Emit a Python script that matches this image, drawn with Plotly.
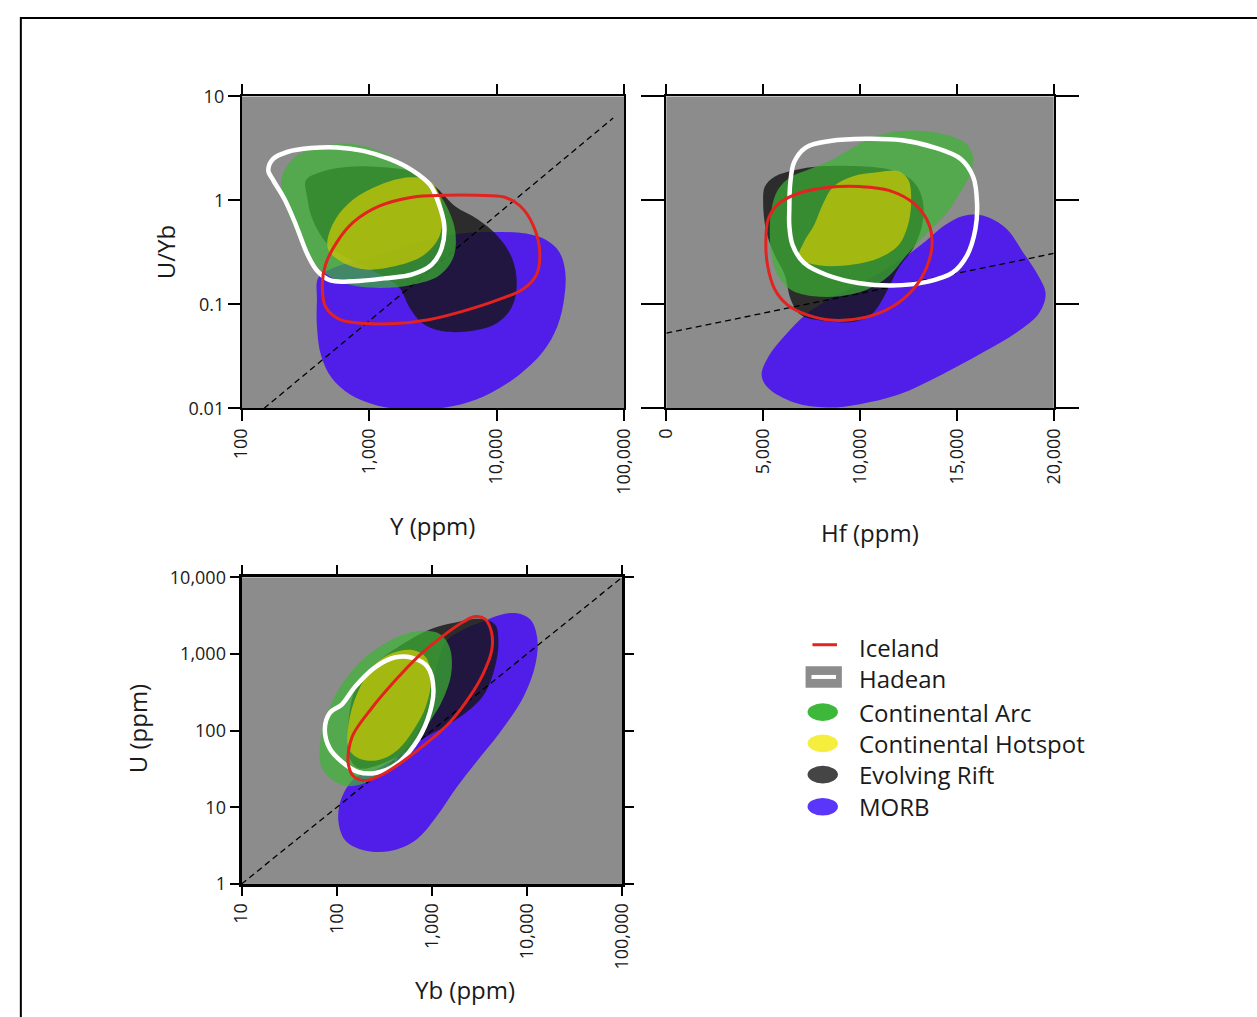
import plotly.graph_objects as go

W, H = 1257, 1017

# ---------------- DATA ----------------
# Panel 1: U/Yb vs Y (ppm)
p1_morb_x = [390, 400, 530, 900, 1600, 2900, 5300, 9500, 17000, 24500, 31000, 34500, 34000, 30000, 23000, 15000, 9000, 5300, 2900, 1700, 1070, 710, 510, 420, 390]
p1_morb_y = [0.110, 0.181, 0.225, 0.270, 0.335, 0.416, 0.48, 0.498, 0.48, 0.416, 0.32, 0.21, 0.118, 0.0618, 0.0348, 0.0210, 0.0141, 0.011, 0.00986, 0.00986, 0.011, 0.0136, 0.0196, 0.0323, 0.0618]
p1_rift_x = [320, 420, 670, 1200, 2200, 3300, 4700, 7100, 10100, 13200, 14400, 13200, 10100, 6300, 3700, 2600, 2060, 1720, 1200, 750, 480, 360, 326]
p1_rift_y = [1.57, 1.88, 2.10, 2.10, 1.88, 1.36, 0.885, 0.66, 0.46, 0.28, 0.157, 0.095, 0.0664, 0.0555, 0.0555, 0.0664, 0.095, 0.146, 0.195, 0.26, 0.373, 0.66, 1.10]
p1_arc_x = [205, 245, 350, 530, 850, 1360, 2060, 3100, 4050, 4750, 4560, 3500, 2180, 1210, 670, 443, 330, 260, 218]
p1_arc_y = [1.57, 2.42, 3.12, 3.47, 3.40, 2.80, 2.02, 1.41, 0.885, 0.498, 0.28, 0.188, 0.155, 0.144, 0.157, 0.202, 0.30, 0.535, 0.95]
p1_hot_x = [470, 545, 750, 1210, 2060, 2930, 3500, 3780, 3500, 2600, 1620, 950, 630, 490]
p1_hot_y = [0.40, 0.66, 1.02, 1.41, 1.67, 1.57, 1.18, 0.713, 0.43, 0.29, 0.234, 0.217, 0.251, 0.32]
p1_ice_x = [430, 456, 561, 753, 1210, 2180, 3940, 7100, 11400, 15300, 19400, 21800, 20600, 16200, 10100, 5300, 2930, 1620, 950, 594, 456]
p1_ice_y = [0.157, 0.242, 0.40, 0.618, 0.885, 1.075, 1.12, 1.12, 1.08, 0.885, 0.574, 0.32, 0.195, 0.141, 0.110, 0.0853, 0.0713, 0.0655, 0.0655, 0.0713, 0.095]
p1_had_x = [162, 177, 231, 350, 561, 900, 1440, 2180, 3010, 3500, 3890, 3710, 3100, 2180, 1360, 753, 498, 393, 330, 268, 218, 177]
p1_had_y = [1.95, 2.51, 2.94, 3.19, 3.24, 3.0, 2.51, 1.95, 1.41, 0.95, 0.574, 0.348, 0.242, 0.195, 0.179, 0.167, 0.170, 0.21, 0.30, 0.574, 1.02, 1.57]
p1_ref_x = [150, 82000]
p1_ref_y = [0.01, 6.2]

# Panel 2: U/Yb vs Hf (ppm)
p2_morb_x = [4920, 5260, 6100, 7280, 8630, 10300, 12000, 13350, 14350, 15370, 16380, 17560, 18400, 19160, 19580, 19240, 18060, 16380, 14190, 12000, 9980, 8290, 6600, 5260]
p2_morb_y = [0.0210, 0.0312, 0.0498, 0.0824, 0.118, 0.169, 0.26, 0.40, 0.574, 0.713, 0.713, 0.535, 0.32, 0.195, 0.127, 0.0824, 0.0535, 0.0348, 0.0210, 0.0136, 0.011, 0.0102, 0.0114, 0.0157]
p2_rift_x = [5000, 5090, 5590, 6600, 7950, 9980, 11660, 12670, 13180, 13260, 12840, 12000, 11320, 10650, 9810, 8290, 6940, 6440, 6100, 5590, 5170]
p2_rift_y = [0.95, 1.36, 1.69, 1.95, 2.13, 2.13, 1.95, 1.57, 1.10, 0.66, 0.373, 0.225, 0.127, 0.0824, 0.0688, 0.0688, 0.0794, 0.110, 0.195, 0.30, 0.498]
p2_arc_x = [5430, 5760, 6440, 7620, 8960, 10310, 11490, 12500, 13510, 14360, 15110, 15700, 15840, 15540, 14690, 13350, 12000, 10820, 9810, 8630, 7450, 6440, 5760, 5430, 5340]
p2_arc_y = [0.30, 0.188, 0.138, 0.12, 0.12, 0.138, 0.188, 0.312, 0.498, 0.713, 1.14, 1.82, 2.61, 3.42, 4.16, 4.64, 4.64, 4.16, 3.35, 2.51, 2.02, 1.69, 1.27, 0.824, 0.498]
p2_hot_x = [6860, 7950, 9640, 10990, 12000, 12470, 12640, 12500, 12000, 10990, 9640, 8630, 8040, 7620, 7110]
p2_hot_y = [0.28, 0.237, 0.242, 0.28, 0.373, 0.574, 0.95, 1.57, 1.91, 1.88, 1.71, 1.36, 0.885, 0.574, 0.40]
p2_ice_x = [5140, 5260, 5760, 6770, 8290, 9980, 11490, 12840, 13550, 13720, 13430, 12760, 11660, 10310, 8630, 7280, 6270, 5590, 5220]
p2_ice_y = [0.40, 0.66, 0.917, 1.16, 1.33, 1.36, 1.25, 0.917, 0.596, 0.373, 0.225, 0.141, 0.095, 0.0755, 0.0703, 0.0794, 0.0986, 0.141, 0.242]
p2_had_x = [6350, 6400, 6600, 7200, 8460, 10310, 12170, 13850, 15200, 15840, 16040, 15960, 15540, 14780, 13510, 11660, 9980, 8290, 7110, 6520, 6350]
p2_had_y = [0.824, 1.47, 2.34, 3.23, 3.73, 3.92, 3.79, 3.23, 2.51, 1.69, 0.95, 0.535, 0.30, 0.202, 0.166, 0.152, 0.16, 0.192, 0.251, 0.373, 0.574]
p2_ref_x = [0, 20000]
p2_ref_y = [0.053, 0.31]

# Panel 3: U (ppm) vs Yb (ppm)
p3_morb_x = [104, 113, 156, 277, 490, 736, 979, 1150, 1420, 2130, 3470, 5210, 7850, 10900, 12800, 12300, 9230, 5210, 2950, 1810, 1110, 680, 353, 184, 122]
p3_morb_y = [6.76, 13.4, 24.2, 32.4, 52.8, 105, 280, 745, 1480, 2080, 2670, 3240, 3400, 2800, 1630, 745, 280, 95.3, 39.4, 18.0, 7.45, 3.75, 2.67, 2.80, 3.75]
p3_rift_x = [133, 133, 156, 255, 490, 940, 1660, 3200, 4610, 5010, 4610, 3610, 2510, 1420, 800, 490, 277, 169]
p3_rift_y = [48.0, 128, 340, 745, 1340, 2080, 2540, 2880, 2420, 1480, 676, 308, 189, 116, 78.3, 50.4, 35.7, 32.4]
p3_arc_x = [66.4, 71.9, 88.3, 122, 200, 384, 736, 1200, 1540, 1600, 1300, 940, 625, 384, 217, 133, 84.7, 68.1]
p3_arc_y = [58.3, 116, 230, 457, 906, 1550, 1990, 1840, 1220, 556, 253, 128, 64.4, 35.7, 21.9, 18.9, 24.2, 35.7]
p3_hot_x = [133, 138, 177, 255, 384, 625, 866, 979, 866, 652, 434, 277, 177]
p3_hot_y = [58.3, 155, 375, 745, 1030, 1125, 906, 457, 208, 105, 55.6, 41.4, 42.6]
p3_ice_x = [133, 150, 235, 416, 736, 1300, 2130, 2830, 3610, 4250, 4250, 3470, 2510, 1540, 866, 490, 300, 200, 150, 133]
p3_ice_y = [52.8, 90.6, 199, 457, 953, 1710, 2610, 3080, 2880, 1890, 1100, 556, 280, 128, 67.6, 39.4, 26.7, 22.3, 25.4, 35.7]
p3_had_x = [75.0, 84.7, 113, 156, 255, 416, 625, 904, 1040, 904, 652, 416, 255, 169, 113, 84.7]
p3_had_y = [105, 171, 219, 375, 676, 906, 889, 676, 340, 141, 64.4, 35.7, 28.0, 28.8, 39.4, 58.3]
p3_ref_x = [10, 100000]
p3_ref_y = [1, 10000]

legend_labels = ["Iceland", "Hadean", "Continental Arc", "Continental Hotspot", "Evolving Rift", "MORB"]

p1_xtickvals = [100, 1000, 10000, 100000]
p1_xticktext = ["100", "1,000", "10,000", "100,000"]
ratio_tickvals = [0.01, 0.1, 1, 10]
ratio_ticktext = ["0.01", "0.1", "1", "10"]
p2_xtickvals = [0, 5000, 10000, 15000, 20000]
p2_xticktext = ["0", "5,000", "10,000", "15,000", "20,000"]
p3_xtickvals = [10, 100, 1000, 10000, 100000]
p3_xticktext = ["10", "100", "1,000", "10,000", "100,000"]
p3_ytickvals = [1, 10, 100, 1000, 10000]
p3_yticktext = ["1", "10", "100", "1,000", "10,000"]

# ---------------- STYLE ----------------
BG = "#8c8c8c"
C_MORB = "rgb(80,30,232)"
C_RIFT = "rgba(20,20,20,0.8)"
C_ARC = "rgba(60,180,50,0.7)"
C_HOT = "rgba(190,195,10,0.8)"
C_ICE = "#e3231f"
C_HAD = "#ffffff"
FONT = "Open Sans"
TXT = "#1a1a1a"


def px_x(p):
    return p / W


def px_y(p):
    return 1 - p / H


def closed(xs, ys):
    return list(xs) + [xs[0]], list(ys) + [ys[0]]


fig = go.Figure()


def add_panel(n, morb, rift, arc, hot, ice, had, ref):
    xa = "x" if n == 1 else f"x{n}"
    ya = "y" if n == 1 else f"y{n}"
    for (xs, ys), col in [(morb, C_MORB), (rift, C_RIFT)]:
        cx, cy = closed(xs, ys)
        fig.add_trace(go.Scatter(x=cx, y=cy, xaxis=xa, yaxis=ya, mode="lines", fill="toself",
                                 fillcolor=col, line=dict(width=0, shape="spline", smoothing=1.0),
                                 hoverinfo="skip", showlegend=False))
    fig.add_trace(go.Scatter(x=ref[0], y=ref[1], xaxis=xa, yaxis=ya, mode="lines",
                             line=dict(color="black", width=1.3, dash="6px,4px"),
                             hoverinfo="skip", showlegend=False))
    for (xs, ys), col in [(arc, C_ARC), (hot, C_HOT)]:
        cx, cy = closed(xs, ys)
        fig.add_trace(go.Scatter(x=cx, y=cy, xaxis=xa, yaxis=ya, mode="lines", fill="toself",
                                 fillcolor=col, line=dict(width=0, shape="spline", smoothing=1.0),
                                 hoverinfo="skip", showlegend=False))
    for (xs, ys), col, w in [(had, C_HAD, 4.5), (ice, C_ICE, 3)]:
        cx, cy = closed(xs, ys)
        fig.add_trace(go.Scatter(x=cx, y=cy, xaxis=xa, yaxis=ya, mode="lines",
                                 line=dict(color=col, width=w, shape="spline", smoothing=1.0),
                                 hoverinfo="skip", showlegend=False))


add_panel(1, (p1_morb_x, p1_morb_y), (p1_rift_x, p1_rift_y), (p1_arc_x, p1_arc_y),
          (p1_hot_x, p1_hot_y), (p1_ice_x, p1_ice_y), (p1_had_x, p1_had_y), (p1_ref_x, p1_ref_y))
add_panel(2, (p2_morb_x, p2_morb_y), (p2_rift_x, p2_rift_y), (p2_arc_x, p2_arc_y),
          (p2_hot_x, p2_hot_y), (p2_ice_x, p2_ice_y), (p2_had_x, p2_had_y), (p2_ref_x, p2_ref_y))
add_panel(3, (p3_morb_x, p3_morb_y), (p3_rift_x, p3_rift_y), (p3_arc_x, p3_arc_y),
          (p3_hot_x, p3_hot_y), (p3_ice_x, p3_ice_y), (p3_had_x, p3_had_y), (p3_ref_x, p3_ref_y))

tickfont = dict(family=FONT, size=18, color=TXT)
common = dict(showgrid=False, zeroline=False, showline=True, linecolor="black",
              ticks="outside", tickcolor="black", tickfont=tickfont)

p1_dom_x = [px_x(233), px_x(623)]
p2_dom_x = [px_x(666), px_x(1061)]
top_dom_y = [px_y(405), px_y(85.5)]
p3_dom_x = [px_x(233), px_x(621)]
p3_dom_y = [px_y(892), px_y(578)]

fig.update_layout(
    width=W, height=H, margin=dict(l=0, r=0, t=0, b=0, pad=0), autosize=False,
    paper_bgcolor="white", plot_bgcolor=BG, showlegend=False,
    xaxis=dict(domain=p1_dom_x, anchor="y", type="log", range=[2, 5], tickvals=p1_xtickvals,
               ticktext=p1_xticktext, tickangle=-90, mirror="ticks", linewidth=1.5, tickwidth=1.5,
               ticklen=11, **common),
    yaxis=dict(domain=top_dom_y, anchor="x", type="log", range=[-2, 1], tickvals=ratio_tickvals,
               ticktext=ratio_ticktext, mirror=True, linewidth=1.5, tickwidth=1.5, ticklen=12, **common),
    xaxis2=dict(domain=p2_dom_x, anchor="y2", range=[0, 20000], tickvals=p2_xtickvals,
                ticktext=p2_xticktext, tickangle=-90, mirror="ticks", linewidth=1.5, tickwidth=1.5,
                ticklen=11, **common),
    yaxis2=dict(domain=top_dom_y, anchor="x2", type="log", range=[-2, 1], tickvals=ratio_tickvals,
                showticklabels=False, mirror="ticks", linewidth=1.5, tickwidth=1.5, ticklen=24, **common),
    xaxis3=dict(domain=p3_dom_x, anchor="y3", type="log", range=[1, 5], tickvals=p3_xtickvals,
                ticktext=p3_xticktext, tickangle=-90, mirror="ticks", linewidth=3, tickwidth=1.5,
                ticklen=9, **common),
    yaxis3=dict(domain=p3_dom_y, anchor="x3", type="log", range=[0, 4], tickvals=p3_ytickvals,
                ticktext=p3_yticktext, mirror="ticks", linewidth=3, tickwidth=1.5, ticklen=9, **common),
)

title_font = dict(family=FONT, size=24, color=TXT)
annotations = [
    dict(text="U/Yb", x=px_x(155), y=px_y(245), textangle=-90),
    dict(text="Y (ppm)", x=px_x(428), y=px_y(525)),
    dict(text="Hf (ppm)", x=px_x(874), y=px_y(532)),
    dict(text="U (ppm)", x=px_x(127), y=px_y(733), textangle=-90),
    dict(text="Yb (ppm)", x=px_x(461), y=px_y(1000)),
]
for a in annotations:
    a.update(xref="paper", yref="paper", showarrow=False, font=title_font,
             xanchor="center", yanchor="middle")

leg_y = [650, 682, 716, 748, 780, 813]
for lab, yy in zip(legend_labels, leg_y):
    annotations.append(dict(text=lab, x=px_x(860), y=px_y(yy), xref="paper", yref="paper",
                            showarrow=False, xanchor="left", yanchor="middle",
                            font=dict(family=FONT, size=24, color=TXT)))

shapes = [
    # outer frame
    dict(type="rect", xref="paper", yref="paper", x0=px_x(8), x1=px_x(1275), y0=px_y(1030), y1=px_y(5),
         line=dict(color="black", width=2), fillcolor="rgba(0,0,0,0)", layer="above"),
    # legend: Iceland
    dict(type="line", xref="paper", yref="paper", x0=px_x(815), x1=px_x(840), y0=px_y(647), y1=px_y(647),
         line=dict(color=C_ICE, width=3)),
    # legend: Hadean
    dict(type="rect", xref="paper", yref="paper", x0=px_x(808), x1=px_x(845), y0=px_y(691), y1=px_y(669),
         fillcolor=BG, line=dict(width=0)),
    dict(type="line", xref="paper", yref="paper", x0=px_x(814), x1=px_x(839), y0=px_y(680), y1=px_y(680),
         line=dict(color="white", width=4)),
]
leg_cols = ["#3db83b", "#f6ee3c", "#454545", "#5a36fb"]
for col, yy in zip(leg_cols, leg_y[2:]):
    shapes.append(dict(type="circle", xref="paper", yref="paper", x0=px_x(810), x1=px_x(841),
                       y0=px_y(yy + 9), y1=px_y(yy - 9), fillcolor=col, line=dict(width=0)))

fig.update_layout(annotations=annotations, shapes=shapes)

fig.write_html("out.html")
